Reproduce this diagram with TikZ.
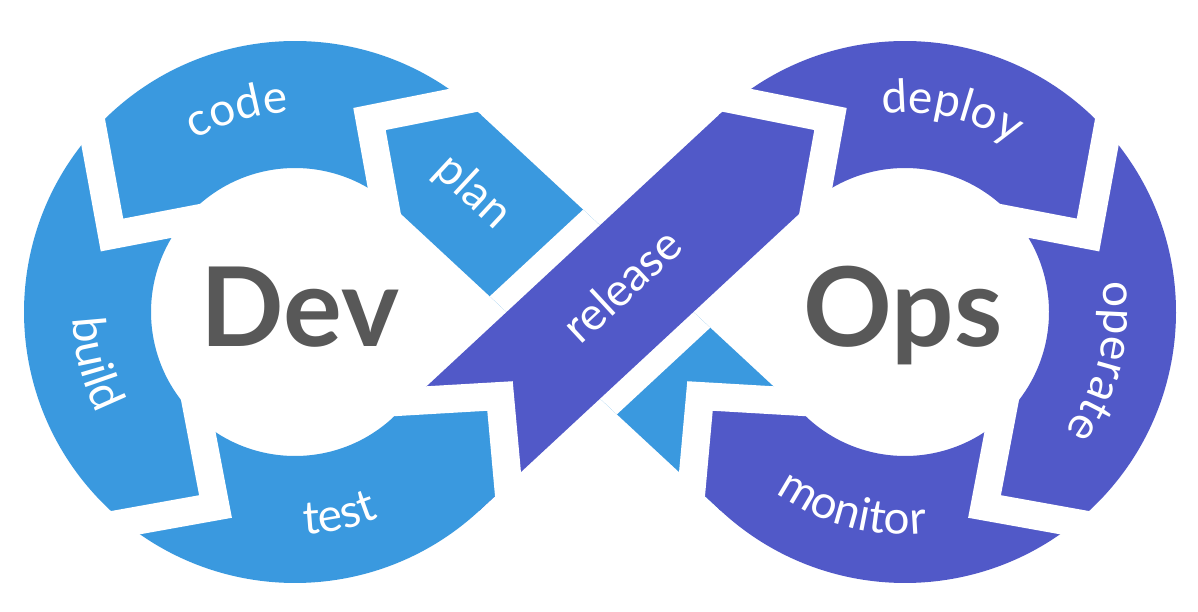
\documentclass[tikz,border=0pt]{standalone}
\usepackage{fontspec}
\usetikzlibrary{calc,decorations.text}
\newfontfamily\labfam{Lato}
\newfontfamily\bigfam{Lato}
\definecolor{dblue}{HTML}{3A99DF}
\definecolor{dpurple}{HTML}{5159C8}
\definecolor{dgray}{HTML}{585858}
\newcommand{\labsty}{\labfam\fontsize{46}{46}\selectfont}
\begin{document}
\begin{tikzpicture}[x=1pt,y=1pt,
  cutline/.style={white, line width=28pt, line join=miter, miter limit=10},
  lab/.style={text=white, font=\labsty, inner sep=0pt},
  arclab/.style={decorate, decoration={text along path, text={|\labsty|#1}, text align=center, text color=white}},
  big/.style={text=dgray, font=\bigfam\bfseries\fontsize{110}{110}\selectfont, inner sep=0pt}]
\useasboundingbox (0,0) rectangle (1198,611);
\fill[white] (0,0) rectangle (1198,611);
\def\Ro{271}\def\Ri{144}\def\ta{47.13}\def\tb{46.6}
\coordinate (L) at (295,299);
\coordinate (R) at (905,299);
\coordinate (LAo) at ($(L)+(\ta:\Ro)$);
\coordinate (LAi) at ($(L)+(\ta:\Ri)$);
\coordinate (LBo) at ($(L)+(-\ta:\Ro)$);
\coordinate (LBi) at ($(L)+(-\ta:\Ri)$);
\coordinate (RBo) at ($(R)+(180-\ta:\Ro)$);
\coordinate (RBi) at ($(R)+(180-\ta:\Ri)$);
\coordinate (RAo) at ($(R)+(180+\ta:\Ro)$);
\coordinate (RAi) at ($(R)+(180+\ta:\Ri)$);
% band A (plan + arrow), blue
\fill[dblue] (LAo) -- (RAi) -- (RAo) -- (LAi) -- cycle;
% gaps where release crosses
\begin{scope}
  \clip (LAo) -- (RAi) -- (RAo) -- (LAi) -- cycle;
  \draw[white, line width=46pt] (RBo) -- (LBi) (LBo) -- (RBi);
\end{scope}
% band B (release), purple
\fill[dpurple] (RBo) -- (LBi) -- (LBo) -- (RBi) -- cycle;
% left ring (blue), slightly overlapping the bands
\fill[dblue] ($(L)+(\tb:\Ro)$) arc[start angle=\tb, end angle=360-\tb, radius=\Ro pt]
  -- ($(L)+(-\tb:\Ri)$) arc[start angle=360-\tb, end angle=\tb, radius=\Ri pt] -- cycle;
% right ring (purple)
\fill[dpurple] ($(R)+(180-\tb:\Ro)$) arc[start angle=180-\tb, end angle=-180+\tb, radius=\Ro pt]
  -- ($(R)+(180+\tb:\Ri)$) arc[start angle=-180+\tb, end angle=180-\tb, radius=\Ri pt] -- cycle;
% cut coordinates
\coordinate (c1o) at (500,518);   \coordinate (c1c) at (369.5,492); \coordinate (c1i) at (389,384);
\coordinate (c2o) at (85,523.6);  \coordinate (c2c) at (112,376);   \coordinate (c2i) at (220,396.7);
\coordinate (c3o) at (68,78);     \coordinate (c3c) at (215.5,104.5); \coordinate (c3i) at (194,217.5);
\coordinate (c4o) at (513.5,66);  \coordinate (c4c) at (500,215);   \coordinate (c4i) at (380,208);
\coordinate (c5o) at (700,518);   \coordinate (c5c) at (830.5,492); \coordinate (c5i) at (811,384);
\coordinate (c6o) at (1115,523.6);\coordinate (c6c) at (1088,376);  \coordinate (c6i) at (980,396.7);
\coordinate (c7o) at (1132,78);   \coordinate (c7c) at (984.5,104.5); \coordinate (c7i) at (1006,217.5);
\coordinate (c8o) at (686.5,66);  \coordinate (c8c) at (700,215);   \coordinate (c8i) at (820,208);
% test head inside release band: blue
\begin{scope}
  \clip (c4i) -- (c4c) -- (c4o) -- (380,66) -- cycle;
  \fill[dblue] (RBo) -- (LBi) -- (LBo) -- (RBi) -- cycle;
\end{scope}
% monitor head inside arrow band: purple
\begin{scope}
  \clip (c8i) -- (c8c) -- (c8o) -- (820,66) -- cycle;
  \fill[dpurple] (LAo) -- (RAi) -- (RAo) -- (LAi) -- cycle;
\end{scope}
% white chevron cuts
\foreach \k in {1,...,8}{\draw[cutline] (c\k o) -- (c\k c) -- (c\k i);}
% curved labels
\path[arclab=code] ($(L)+(146:199.5)$) arc[start angle=146, end angle=66, radius=199.5pt];
\path[arclab=build] ($(L)+(154.5:222.5)$) arc[start angle=154.5, end angle=234.5, radius=222.5pt];
\path[arclab=test] ($(L)+(242.3:222.5)$) arc[start angle=242.3, end angle=322.3, radius=222.5pt];
\path[arclab=deploy] ($(R)+(117:199.5)$) arc[start angle=117, end angle=37, radius=199.5pt];
\path[arclab=operate] ($(R)+(26:199.5)$) arc[start angle=26, end angle=-54, radius=199.5pt];
\path[arclab=monitor] ($(R)+(215:222.5)$) arc[start angle=215, end angle=295, radius=222.5pt];
% straight labels
\node[lab, rotate=-42.87, anchor=base] (plan) at ($(472,417.5)+(-132.87:11.5)$) {plan};
\node[lab, rotate=42.87, anchor=base] (release) at ($(625,322)+(-47.13:11.5)$) {release};
% centre words
\node[big, anchor=base] (dev) at (300,265) {Dev};
\node[big, anchor=base] (ops) at (903,265) {Ops};
\end{tikzpicture}
\end{document}
